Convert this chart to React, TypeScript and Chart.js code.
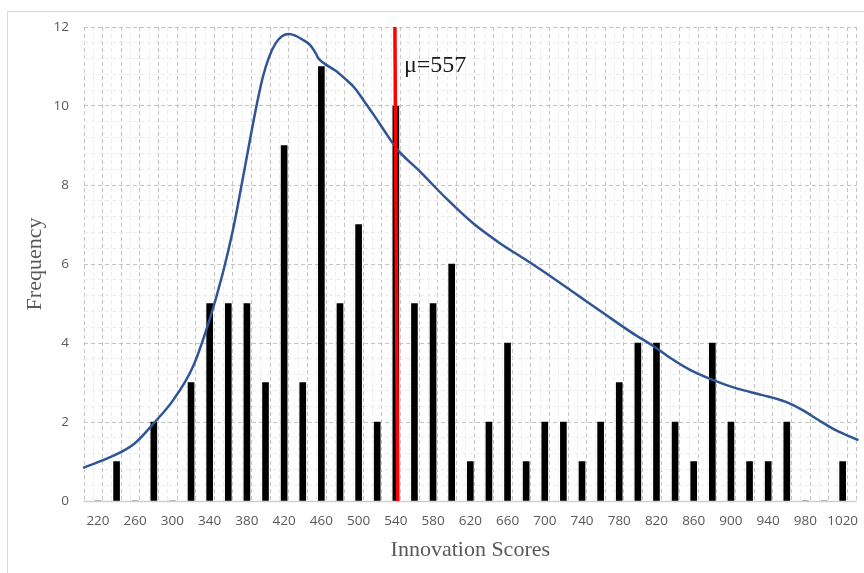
import React, { useEffect, useRef } from "react";
import { Chart, registerables } from "chart.js";

Chart.register(...registerables);

// Score bins (centre of each 20-point bin) and their frequencies
const scoreBins = [
  220, 240, 260, 280, 300, 320, 340, 360, 380, 400, 420, 440, 460, 480, 500, 520, 540,
  560, 580, 600, 620, 640, 660, 680, 700, 720, 740, 760, 780, 800, 820, 840, 860, 880,
  900, 920, 940, 960, 980, 1000, 1020,
];
const frequencies = [
  0, 1, 0, 2, 0, 3, 5, 5, 5, 3, 9, 3, 11, 5, 7, 2, 10,
  5, 5, 6, 1, 2, 4, 1, 2, 2, 1, 2, 3, 4, 4, 2, 1, 4,
  2, 1, 1, 2, 0, 0, 1,
];

// Smoothed density curve
const curveX = [
  204, 238, 259, 280, 301, 322, 340, 354, 365, 374, 381, 389, 397, 404, 411, 418, 425,
  432, 439, 448, 454, 457, 464, 475, 485, 496, 506, 517, 528, 542, 566, 595, 623, 651,
  680, 708, 736, 764, 793, 818, 835, 856, 881, 906, 934, 959, 977, 994, 1012, 1037,
];
const curveY = [
  0.84, 1.16, 1.45, 1.97, 2.56, 3.4, 4.6, 5.76, 6.86, 7.96, 8.85, 9.85, 10.72, 11.25, 11.59,
  11.77, 11.82, 11.78, 11.69, 11.54, 11.33, 11.2, 11.06, 10.9, 10.7, 10.45, 10.12, 9.75,
  9.36, 8.89, 8.34, 7.64, 7.03, 6.54, 6.1, 5.66, 5.2, 4.74, 4.27, 3.9, 3.62, 3.32, 3.06,
  2.85, 2.68, 2.51, 2.3, 2.05, 1.8, 1.54,
];

// Mean marker (as drawn: bottom x, top x) and its label
const meanLineX = [542, 539];
const meanLineY = [0, 12];
const meanLabel = "μ=557";

// Axis settings
const xMin = 210;
const xMax = 1030;
const yMin = 0;
const yMax = 12;
const xTickStep = 10;
const xLabelStep = 40;
const xLabelStart = 220;
const yTickStep = 0.4;
const yLabelStep = 2;

const xTitle = "Innovation Scores";
const yTitle = "Frequency";

const GRID_MAJOR = "#c4c4c4";
const GRID_MINOR = "#ececec";
const TEXT_GRAY = "#595959";

export default function App() {
  const canvasRef = useRef<HTMLCanvasElement | null>(null);

  useEffect(() => {
    const canvas = canvasRef.current;
    if (!canvas) return;

    const barData = scoreBins.map((s, i) => ({ x: s, y: frequencies[i] }));
    const curveData = curveX.map((x, i) => ({ x, y: curveY[i] }));
    const meanData = meanLineX.map((x, i) => ({ x, y: meanLineY[i] }));

    const isMajorX = (v: number) => Math.abs(((v - xMin) / 20) - Math.round((v - xMin) / 20)) < 1e-6;
    const isLabelX = (v: number) => Math.abs(((v - xLabelStart) / xLabelStep) - Math.round((v - xLabelStart) / xLabelStep)) < 1e-6;
    const isMajorY = (v: number) => Math.abs(v / yLabelStep - Math.round(v / yLabelStep)) < 1e-6;

    const framePlugin = {
      id: "frame",
      beforeDraw(chart: any) {
        const ctx = chart.ctx;
        ctx.save();
        ctx.fillStyle = "#ffffff";
        ctx.fillRect(0, 0, chart.width, chart.height);
        ctx.strokeStyle = "#d9d9d9";
        ctx.lineWidth = 1;
        ctx.strokeRect(7.5, 11.5, chart.width + 20, chart.height + 20);
        ctx.restore();
      },
      beforeDatasetsDraw(chart: any) {
        const ctx = chart.ctx;
        const ys = chart.scales.y;
        const area = chart.chartArea;
        const y0 = Math.round(ys.getPixelForValue(yMin)) + 0.5;
        ctx.save();
        ctx.strokeStyle = "#cfcfcf";
        ctx.lineWidth = 1.5;
        ctx.setLineDash([]);
        ctx.beginPath();
        ctx.moveTo(area.left, y0);
        ctx.lineTo(area.right, y0);
        ctx.stroke();
        ctx.restore();
      },
      afterDatasetsDraw(chart: any) {
        const ctx = chart.ctx;
        const xs = chart.scales.x;
        const ys = chart.scales.y;
        ctx.save();
        ctx.font = "24px 'Liberation Serif', 'Times New Roman', serif";
        ctx.fillStyle = "#1a1a1a";
        ctx.textAlign = "left";
        ctx.textBaseline = "alphabetic";
        ctx.fillText(meanLabel, xs.getPixelForValue(meanLineX[1]) + 9, ys.getPixelForValue(10.85));
        ctx.restore();
      },
    };

    const chart = new Chart(canvas, {
      type: "bar",
      data: {
        datasets: [
          {
            type: "line",
            data: meanData,
            borderColor: "#ff0000",
            borderWidth: 3.5,
            pointRadius: 0,
            order: 0,
            clip: false,
          } as any,
          {
            type: "line",
            data: curveData,
            borderColor: "#2f5597",
            borderWidth: 2.5,
            pointRadius: 0,
            cubicInterpolationMode: "monotone",
            order: 1,
            clip: false,
          } as any,
          {
            type: "bar",
            data: barData,
            backgroundColor: "#000000",
            borderWidth: 0,
            barThickness: 6,
            order: 2,
          } as any,
        ],
      },
      options: {
        responsive: false,
        animation: false,
        devicePixelRatio: 1,
        layout: { padding: { left: 0, top: 27, right: 7, bottom: 0 } },
        plugins: {
          legend: { display: false },
          tooltip: { enabled: false },
        },
        scales: {
          x: {
            type: "linear",
            min: xMin,
            max: xMax,
            afterBuildTicks: (scale: any) => {
              const t: any[] = [];
              for (let v = xMin; v <= xMax + 1e-6; v += xTickStep) t.push({ value: v });
              scale.ticks = t;
            },
            afterFit: (scale: any) => {
              scale.height = 72;
            },
            ticks: {
              autoSkip: false,
              maxRotation: 0,
              minRotation: 0,
              padding: 12,
              color: TEXT_GRAY,
              font: { family: "'Open Sans', sans-serif", size: 13.5 },
              callback: (v: any) => (isLabelX(Number(v)) ? String(Math.round(Number(v))) : ""),
            },
            grid: {
              drawTicks: false,
              color: (c: any) => (c.tick && !isMajorX(c.tick.value) ? GRID_MINOR : GRID_MAJOR),
              lineWidth: 1,
            },
            border: { display: false, dash: [4, 3] },
            title: {
              display: true,
              text: xTitle,
              color: TEXT_GRAY,
              font: { family: "'Liberation Serif', 'Times New Roman', serif", size: 22 },
              padding: { top: 0, bottom: 10 },
            },
          },
          y: {
            type: "linear",
            min: yMin,
            max: yMax,
            afterBuildTicks: (scale: any) => {
              const t: any[] = [];
              const n = Math.round((yMax - yMin) / yTickStep);
              for (let i = 0; i <= n; i++) t.push({ value: yMin + i * yTickStep });
              scale.ticks = t;
            },
            afterFit: (scale: any) => {
              scale.width = 84;
            },
            ticks: {
              autoSkip: false,
              padding: 15,
              color: TEXT_GRAY,
              font: { family: "'Open Sans', sans-serif", size: 13.5 },
              callback: (v: any) => (isMajorY(Number(v)) ? String(Math.round(Number(v))) : ""),
            },
            grid: {
              drawTicks: false,
              color: (c: any) => (c.tick && !isMajorY(c.tick.value) ? GRID_MINOR : GRID_MAJOR),
              lineWidth: 1,
            },
            border: { display: false, dash: [4, 3] },
            title: {
              display: true,
              text: yTitle,
              color: TEXT_GRAY,
              font: { family: "'Liberation Serif', 'Times New Roman', serif", size: 22 },
              padding: { top: 22, bottom: 0 },
            },
          },
        },
      } as any,
      plugins: [framePlugin],
    });

    return () => {
      chart.destroy();
    };
  }, []);

  return (
    <div style={{ position: "fixed", left: 0, top: 0, width: 864, height: 573, background: "#fff" }}>
      <canvas ref={canvasRef} width={864} height={573} style={{ display: "block", width: 864, height: 573 }} />
    </div>
  );
}
